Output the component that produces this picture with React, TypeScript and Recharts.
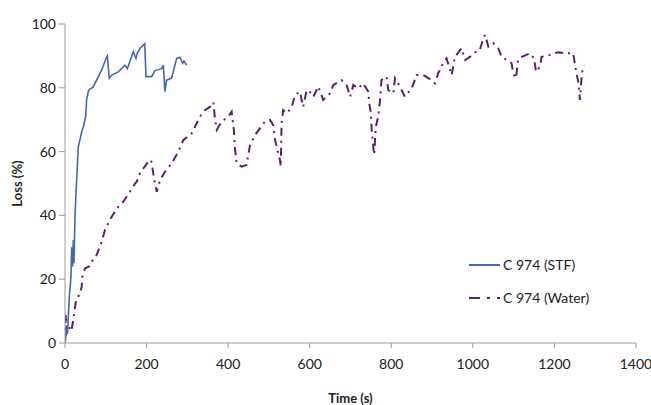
import { LineChart, Line, XAxis, YAxis, Legend } from "recharts";

const stfTime = [0, 4, 6, 10.6, 14.7, 16.3, 18.8, 20.4, 22, 24.5, 27, 32.6, 41, 45, 50.7, 53, 57, 60, 69, 81.7, 90, 100.5, 103.7, 108.6, 114.5, 130.7, 143, 147, 152.7, 159, 167.4, 174, 177, 184, 193.7, 195.5, 198.6, 212.5, 220.6, 237, 241, 245, 249, 261.5, 273.8, 282, 288.5, 291.7, 298];
const stfLoss = [0, 5, 3, 14.5, 20.8, 30, 24, 32.3, 25, 39.6, 47, 61.5, 66.2, 67.8, 71, 76.2, 78.8, 79.5, 80.2, 83.5, 85.6, 89.2, 90, 83, 84, 85, 86.6, 87.1, 86, 88.2, 91.3, 89.2, 90.8, 92.4, 93.6, 93.8, 83.5, 83.5, 85.4, 86, 87.1, 78.8, 82.4, 83, 89.2, 89.6, 87.7, 88.4, 87.1];

const waterTime = [0, 2, 4, 12, 16, 20, 24.5, 28.6, 35, 41, 42.5, 49, 61, 68, 77.5, 90, 98, 110, 127, 143, 159, 171.6, 176, 184, 204, 211, 216.5, 220.6, 225, 233, 245, 261.5, 278, 290, 310.6, 331, 343, 355.5, 363.6, 368, 372, 384, 400, 408.6, 414, 417, 421, 433, 445, 453.5, 466, 478, 490, 502.6, 510.7, 515, 519, 527, 529, 531, 535, 543.5, 556, 564, 576, 584, 592.5, 605, 609, 621, 633, 650, 658, 678, 690.6, 699, 707, 719, 731, 743.6, 746, 749.5, 752, 756, 758, 762, 768, 772, 776, 788.6, 792.6, 805, 809, 821, 833.5, 850, 862, 878.5, 899, 907, 915, 927, 935.6, 944, 948, 956, 972.5, 981, 993, 1001, 1017, 1025.6, 1030, 1038, 1050, 1062, 1070.5, 1083, 1095, 1099, 1105.6, 1111, 1120, 1140, 1150, 1155, 1164.5, 1168.6, 1189, 1209, 1225.8, 1246, 1250, 1254, 1258.5, 1262.6, 1265, 1269, 1273];
const waterLoss = [0, 9, 3, 5, 4, 7, 11.4, 14, 15, 17.6, 20.8, 23.4, 24.1, 26, 27.6, 31.8, 35.4, 38.6, 42.2, 44.3, 47.4, 50, 50.6, 53.3, 56.8, 57.4, 53.2, 50, 47.4, 51, 53.7, 56.3, 60, 63.6, 65.7, 71, 73, 74, 75.5, 70, 66.8, 69.4, 71, 72.5, 66.8, 60.5, 56.3, 55.3, 55.8, 62, 65.2, 67.3, 69.4, 69.9, 68.3, 63.6, 61.5, 57.4, 55.3, 68.9, 73, 72, 74, 77.7, 78.8, 74, 79.3, 78.3, 77.2, 80.4, 76.2, 78.3, 80.9, 82.4, 80.9, 77.2, 80.9, 79.8, 81.4, 78.8, 75.1, 72.5, 66.8, 61.5, 59, 67.8, 71, 75.6, 82.4, 83.5, 79.3, 78.3, 83, 80.4, 77.2, 79.8, 84, 84, 82.4, 81.4, 84.5, 87.7, 89.2, 85.6, 84, 89.7, 92.4, 88.7, 89.7, 90.8, 91.8, 95.5, 96.6, 92.9, 94, 92.4, 89.7, 88.7, 87.7, 84.5, 83, 88.7, 89.7, 90.8, 89.2, 85, 86.6, 89.7, 90.3, 91.1, 90.8, 90.8, 87.7, 84.5, 81.9, 76.2, 80.9, 86.1, 87];

const xTicks = [0, 200, 400, 600, 800, 1000, 1200, 1400];
const yTicks = [0, 20, 40, 60, 80, 100];

const stfData = stfTime.map((t, i) => ({ t, loss: stfLoss[i] }));
const waterData = waterTime.map((t, i) => ({ t, loss: waterLoss[i] }));

const FONT = "Lato, 'Open Sans', sans-serif";
const AXIS = "#9c9c9c";
const STF_COLOR = "#4667b0";
const WATER_COLOR = "#5c1f6e";
const WATER_DASH = "8 5 2 5";

function renderLegend() {
  const items = [
    { name: "C 974 (STF)", color: STF_COLOR, dash: undefined as string | undefined },
    { name: "C 974 (Water)", color: WATER_COLOR, dash: "11 7 3 7" },
  ];
  return (
    <svg width={170} height={60}>
      {items.map((it, i) => (
        <g key={it.name} transform={`translate(0, ${12 + i * 33})`}>
          <line x1={2} x2={33} y1={0} y2={0} stroke={it.color} strokeWidth={2} strokeDasharray={it.dash} />
          <text x={36} y={0} dy="0.35em" fontSize={14} fontFamily={FONT} fill="#222">
            {it.name}
          </text>
        </g>
      ))}
    </svg>
  );
}

export default function App() {
  return (
    <div style={{ position: "absolute", left: 0, top: 0, width: 651, height: 405, background: "#fff" }}>
      <LineChart width={651} height={405} margin={{ top: 24, right: 15, left: 5, bottom: 22 }}>
        <XAxis
          type="number"
          dataKey="t"
          domain={[0, 1400]}
          ticks={xTicks}
          allowDataOverflow
          stroke={AXIS}
          tickSize={5}
          tickMargin={11}
          height={40}
          tick={{ fill: "#222", fontSize: 14, fontFamily: FONT }}
          label={{
            value: "Time (s)",
            position: "insideBottom",
            offset: -20,
            style: { fontWeight: 700, fontSize: 13, fontFamily: FONT, fill: "#222" },
          }}
        />
        <YAxis
          type="number"
          domain={[0, 100]}
          ticks={yTicks}
          stroke={AXIS}
          width={60}
          tickSize={6}
          tickMargin={3}
          tick={{ fill: "#222", fontSize: 14, fontFamily: FONT }}
          label={{
            value: "Loss (%)",
            angle: -90,
            position: "insideLeft",
            offset: 12,
            style: { textAnchor: "middle", fontWeight: 700, fontSize: 13, fontFamily: FONT, fill: "#222" },
          }}
        />
        <Legend
          content={renderLegend}
          layout="vertical"
          verticalAlign="middle"
          align="center"
          wrapperStyle={{ left: 467, top: 253, width: 170 }}
        />
        <Line
          data={waterData}
          dataKey="loss"
          type="linear"
          stroke={WATER_COLOR}
          strokeWidth={2}
          strokeDasharray={WATER_DASH}
          dot={false}
          isAnimationActive={false}
        />
        <Line
          data={stfData}
          dataKey="loss"
          type="linear"
          stroke={STF_COLOR}
          strokeWidth={1.6}
          dot={false}
          isAnimationActive={false}
        />
      </LineChart>
    </div>
  );
}
